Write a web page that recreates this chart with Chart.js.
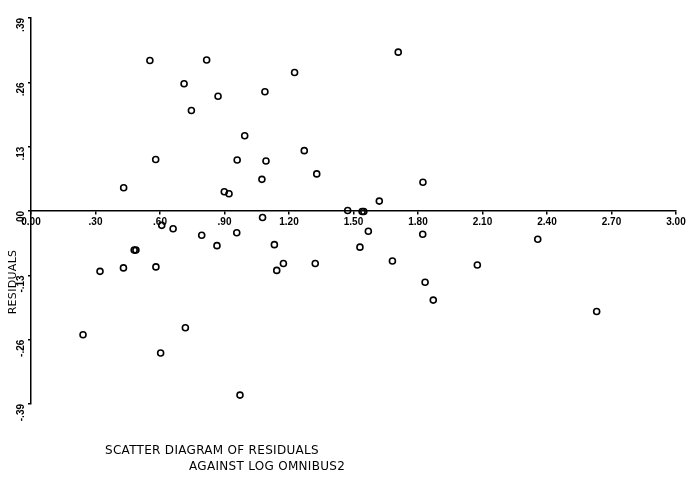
<!DOCTYPE html>
<html>
<head>
<meta charset="utf-8">
<script src="https://cdn.jsdelivr.net/npm/chart.js@4/dist/chart.umd.min.js"></script>
<style>
  html, body { margin: 0; padding: 0; background: #ffffff; }
  #wrap { width: 689px; height: 477px; position: relative; }
</style>
</head>
<body>
<div id="wrap"><canvas id="c" width="689" height="477"></canvas></div>
<script>
// Data
const logOmnibus = [0.553, 0.817, 0.712, 0.870, 0.746, 1.226, 1.088, 1.708, 0.994, 1.271,
  0.580, 0.959, 1.093, 1.329, 1.074, 1.823, 0.431, 0.899, 0.921, 1.620,
  1.473, 1.540, 1.548, 0.608, 0.661, 0.794, 0.957, 1.077, 0.865, 0.480,
  0.488, 0.321, 0.430, 0.581, 1.132, 1.174, 1.143, 1.322, 1.569, 1.530,
  1.681, 1.822, 1.833, 1.871, 2.076, 2.357, 2.631, 0.242, 0.718, 0.603, 0.972];
const residuals = [0.304, 0.305, 0.257, 0.232, 0.203, 0.280, 0.241, 0.321, 0.152, 0.122,
  0.104, 0.103, 0.101, 0.075, 0.064, 0.058, 0.047, 0.039, 0.035, 0.020,
  0.001, -0.001, -0.001, -0.029, -0.036, -0.049, -0.044, -0.013, -0.070, -0.079,
  -0.079, -0.122, -0.115, -0.113, -0.068, -0.106, -0.120, -0.106, -0.041, -0.073,
  -0.101, -0.047, -0.144, -0.180, -0.109, -0.057, -0.203, -0.250, -0.236, -0.287, -0.372];

const xTickValues = [0, 0.3, 0.6, 0.9, 1.2, 1.5, 1.8, 2.1, 2.4, 2.7, 3.0];
const xTickLabels = ["0.00", ".30", ".60", ".90", "1.20", "1.50", "1.80", "2.10", "2.40", "2.70", "3.00"];
const yTickValues = [-0.39, -0.26, -0.13, 0, 0.13, 0.26, 0.39];
const yTickLabels = ["-.39", "-.26", "-.13", ".00", ".13", ".26", ".39"];

const yTitle = "RESIDUALS";
const captionLines = ["SCATTER DIAGRAM OF RESIDUALS", "AGAINST LOG OMNIBUS2"];

const points = logOmnibus.map((x, i) => ({ x: x, y: residuals[i] }));

const captionPlugin = {
  id: 'caption',
  afterDraw(chart) {
    const ctx = chart.ctx;
    ctx.save();
    ctx.fillStyle = '#000';
    ctx.font = '12px "DejaVu Sans"';
    try { ctx.letterSpacing = '0.3px'; } catch (e) {}
    ctx.textBaseline = 'alphabetic';
    ctx.textAlign = 'left';
    ctx.fillText(captionLines[0], 105, 454);
    ctx.fillText(captionLines[1], 189, 470);
    // rotated y title
    ctx.translate(16, 282);
    ctx.rotate(-Math.PI / 2);
    ctx.textAlign = 'center';
    ctx.font = '11px "DejaVu Sans"';
    ctx.fillText(yTitle, 0, 0);
    ctx.restore();
  }
};

new Chart(document.getElementById('c'), {
  type: 'scatter',
  data: {
    datasets: [{
      data: points,
      pointStyle: 'circle',
      pointRadius: 3,
      pointHoverRadius: 3,
      borderColor: '#000',
      backgroundColor: 'rgba(0,0,0,0)',
      pointBorderWidth: 1.6
    }]
  },
  options: {
    responsive: false,
    animation: false,
    events: [],
    layout: { padding: { left: 0, top: 18, right: 13, bottom: 73 } },
    plugins: { legend: { display: false }, tooltip: { enabled: false }, title: { display: false } },
    scales: {
      x: {
        type: 'linear',
        position: { y: 0 },
        min: 0, max: 3,
        afterBuildTicks(scale) { scale.ticks = xTickValues.map(v => ({ value: v })); },
        border: { display: true, color: '#000', width: 1.5 },
        grid: { display: true, drawOnChartArea: false, drawTicks: true, tickLength: 3, color: '#000', lineWidth: 1.5 },
        ticks: {
          color: '#000',
          font: { family: '"Liberation Sans"', size: 10, weight: 'bold' },
          padding: 2,
          maxRotation: 0, minRotation: 0,
          autoSkip: false,
          callback: (v, i) => xTickLabels[i]
        }
      },
      y: {
        type: 'linear',
        min: -0.39, max: 0.39,
        afterBuildTicks(scale) { scale.ticks = yTickValues.map(v => ({ value: v })); },
        afterFit(scale) { scale.width = 31; },
        border: { display: true, color: '#000', width: 1.5 },
        grid: { display: true, drawOnChartArea: false, drawTicks: true, tickLength: 3, color: '#000', lineWidth: 1.5 },
        ticks: {
          color: '#000',
          font: { family: '"Liberation Sans"', size: 10, weight: 'bold' },
          padding: 7,
          minRotation: 90, maxRotation: 90,
          autoSkip: false,
          callback: (v, i) => yTickLabels[i]
        }
      }
    }
  },
  plugins: [captionPlugin]
});
</script>
</body>
</html>
